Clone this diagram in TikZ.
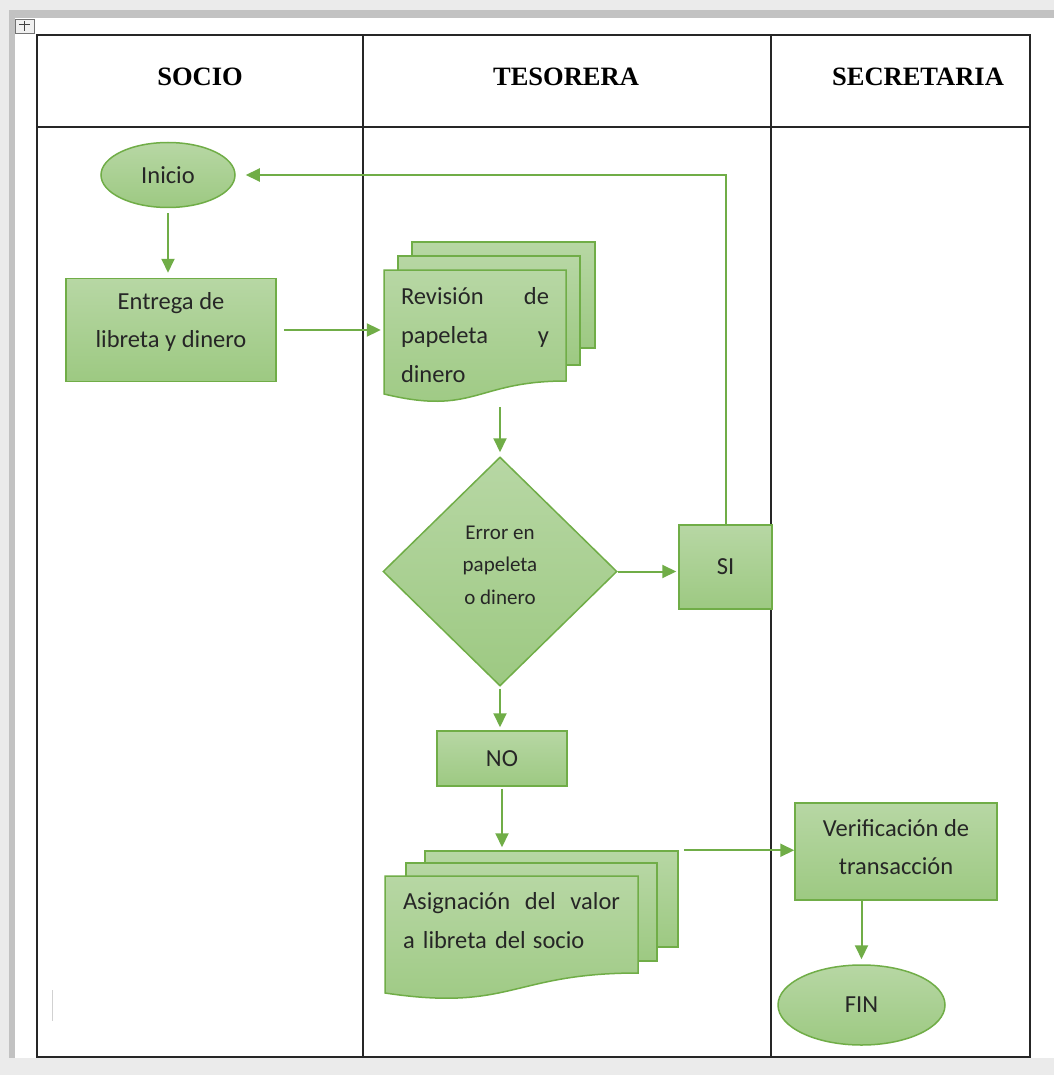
\documentclass[tikz,border=0pt]{standalone}
\usepackage{fontspec}
\setmainfont{Liberation Serif}
\newfontfamily\calibri{Carlito}
\usepackage{tikz}
\usetikzlibrary{arrows.meta, positioning, shapes.geometric}
\usepackage{xcolor}
\definecolor{verde}{RGB}{112, 173, 71}
\definecolor{verdeclaro}{RGB}{183, 215, 164}
\definecolor{verdemedio}{RGB}{157, 201, 130}
\definecolor{texto}{RGB}{38, 38, 38}
\tikzset{
  forma/.style={
    draw=verde, line width=1.5pt, top color=verdeclaro, bottom color=verdemedio,
    text=texto, inner sep=0pt, align=center,
    font=\calibri\fontsize{24.5}{38}\selectfont
  },
  caixa/.style={forma, rectangle},
  terminal/.style={forma, ellipse},
  losango/.style={forma, diamond, font=\calibri\fontsize{21}{32.5}\selectfont},
  folha/.style={forma, rectangle},
  seta/.style={-{Triangle[length=14pt, width=13pt]}, line width=2pt, verde},
}

\begin{document}
\begin{tikzpicture}[
    x=1pt, y=-1pt,
    tabela/.style={
        draw=black!85,
        line width=1.6pt
    },
    cabecalho/.style={
        font=\fontsize{26.5}{30}\selectfont\bfseries,
        text=black
    },
    textodoc/.style={
        text=texto,
        align=left,
        inner ysep=0pt,
        font=\calibri\fontsize{24.5}{39}\selectfont
    }
]
\useasboundingbox (0,0) rectangle (1054,1075);

% Moldura da pagina
\fill[black!8] (0,0) rectangle (1054,1075);
\fill[black!24] (9,10) rectangle (1054,1058);
\fill[white] (15,18) rectangle (1054,1058);
\draw[black!55, fill=black!6, line width=0.6pt] (15,19) rectangle (34,33);
\draw[black!75, line width=0.8pt] (19,24) -- (30,24) (24.5,21) -- (24.5,31);
\draw[black!18, line width=1pt] (52,990) -- (52,1021);

% Tabela
\draw[tabela] (37,35) rectangle (1030,1057);
\draw[tabela] (37,127) -- (1030,127);
\draw[tabela] (363,35) -- (363,1057);
\draw[tabela] (771,35) -- (771,1057);

\node[cabecalho] (socio) at (200,77) {SOCIO};
\node[cabecalho] (tesorera) at (566,77) {TESORERA};
\node[cabecalho] (secretaria) at (918,77) {SECRETARIA};

% Socio
\node[terminal, minimum width=134pt, minimum height=65pt] (inicio) at (168,175) {Inicio};
\node[caixa, minimum width=210pt, minimum height=103pt, text depth=20pt] (entrega) at (171,330)
{Entrega de\\libreta y dinero};

% Tesorera
\node[folha, minimum width=183pt, minimum height=106pt] (revision3) at (503.5,295) {};
\node[folha, minimum width=182pt, minimum height=109pt] (revision2) at (489,310.5) {};
\draw[forma] (384,270) -- (566,270) -- (566,381)
    .. controls (475,381) and (475,416) .. (384,394) -- cycle;
\node[textodoc, text width=148pt, inner xsep=17pt, minimum height=126pt] (revision) at (475,335)
{Revisión\hfill de\\papeleta\hfill y\\dinero};

\node[losango, minimum width=234pt, minimum height=229pt, text depth=13pt] (decision) at (500,571.5)
{Error en\\papeleta\\o dinero};
\node[caixa, minimum width=93pt, minimum height=84pt] (si) at (725.5,567) {SI};
\node[caixa, minimum width=130pt, minimum height=55pt] (no) at (502,758.5) {NO};

\node[folha, minimum width=253pt, minimum height=96pt] (asignacion3) at (551.5,899) {};
\node[folha, minimum width=251pt, minimum height=98pt] (asignacion2) at (531.5,912) {};
\draw[forma] (385,876) -- (638,876) -- (638,973)
    .. controls (511.5,973) and (511.5,1012) .. (385,993) -- cycle;
\node[textodoc, text width=217pt, inner xsep=18pt] (asignacion) at (511.5,921)
{Asignación\hfill del\hfill valor\\a libreta del\kern-1pt\ socio};

% Secretaria
\node[caixa, minimum width=202pt, minimum height=97pt, text depth=10pt] (verificacion) at (896,851.5)
{Verificación de\\transacción};
\node[terminal, minimum width=167pt, minimum height=80pt] (fin) at (861.5,1005) {FIN};

% Setas
\draw[seta, shorten <=5pt, shorten >=5pt] (inicio.south) -- (inicio.south |- entrega.north);
\draw[seta, shorten <=7pt, shorten >=3pt] (entrega.east) -- (entrega.east -| revision.west);
\draw[seta, shorten <=9pt, shorten >=4pt] (decision.north |- revision.south) -- (decision.north);
\draw[seta, shorten >=2pt] (decision.east) -- (decision.east -| si.west);
\draw[seta, shorten >=10pt] (si.north) |- (inicio.east);
\draw[seta, shorten <=2pt, shorten >=3pt] (decision.south) -- (decision.south |- no.north);
\draw[seta, shorten <=2pt, shorten >=3pt] (no.south) -- (no.south |- asignacion3.north);
\draw[seta, shorten <=5pt] (asignacion3.north east) -- (asignacion3.north east -| verificacion.west);
\draw[seta, shorten >=5pt] (fin.north |- verificacion.south) -- (fin.north);

\end{tikzpicture}
\end{document}
